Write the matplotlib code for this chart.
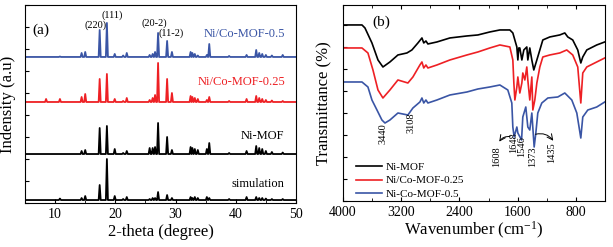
import matplotlib
matplotlib.use('Agg')
import matplotlib.pyplot as plt
from matplotlib.ticker import MultipleLocator

plt.rcParams['font.family'] = ['Liberation Serif', 'DejaVu Serif']
plt.rcParams['mathtext.default'] = 'regular'

# ---- (a) XRD peaks: 2-theta position and height of each reflection ----
peak_pos = [8.5, 10.8, 14.4, 15.0, 17.4, 18.6, 19.9, 21.3, 21.9, 25.7, 26.2, 26.6,
            27.1, 28.6, 29.4, 32.5, 32.8, 33.2, 33.7, 35.2, 35.6, 38.9, 41.8, 43.4,
            43.9, 44.4, 45.0, 46.0, 47.8]
h_sim = [0, 1.5, 2, 4, 15, 41, 4, 1, 3, 1, 2, 2, 8, 5, 2, 3, 2, 3, 2, 3, 2, 1, 3, 3,
         2, 2, 1.5, 1, 1]
h_ni = [0, 0, 3, 4, 26, 28, 5, 1, 3, 6, 6, 7, 31, 17, 4, 7, 6, 5, 4, 5, 11, 1, 3, 8,
        6, 5, 3, 2, 1.5]
h_co025 = [3, 3, 5, 8, 23, 28, 3, 1, 4, 2, 4, 7, 39, 23, 9, 6, 5, 4, 3, 2, 5, 1, 3, 6,
           4, 3, 2, 1.5, 1]
h_co05 = [0, 0.5, 4, 5, 27, 34, 3, 1.5, 4, 2, 3, 5, 24, 16, 5, 5, 4, 3, 1.5, 2, 13, 1, 2,
          7, 4, 3, 2, 1.5, 2]
xrd_offsets = [3, 49, 101, 146]
xrd_names = ['simulation', 'Ni-MOF', 'Ni/Co-MOF-0.25', 'Ni/Co-MOF-0.5']

# ---- (b) FTIR spectra (wavenumber, transmittance a.u.) ----
wn_ni = [4000, 3739, 3698, 3602, 3519, 3451, 3355, 3245, 3121, 3053, 2970, 2915, 2890,
         2860, 2833, 2709, 2531, 2297, 2146, 1982, 1844, 1707, 1666, 1611, 1597, 1584,
         1570, 1542, 1515, 1474, 1460, 1433, 1405, 1378, 1336, 1295, 1254, 1158, 1021,
         952, 911, 843, 774, 732, 705, 650, 513, 403]
t_ni = [176, 176, 173, 158, 141, 134, 139, 146, 148, 151, 158, 163, 158, 160, 157, 159,
        163, 165, 166, 169, 171, 171, 168, 154, 141, 153, 153, 141, 151, 154, 141, 153,
        141, 131, 141, 151, 161, 164, 166, 168, 164, 161, 151, 138, 144, 151, 156, 159]
wn_co025 = [4000, 3739, 3657, 3588, 3519, 3451, 3355, 3245, 3108, 3039, 2943, 2915, 2890,
            2860, 2833, 2709, 2531, 2297, 2146, 1982, 1844, 1707, 1666, 1652, 1638, 1611,
            1597, 1570, 1542, 1529, 1501, 1474, 1460, 1433, 1405, 1391, 1364, 1336, 1295,
            1254, 1158, 1021, 925, 843, 774, 732, 705, 650, 513, 403]
t_co025 = [153, 153, 148, 131, 111, 103, 111, 121, 118, 124, 136, 139, 133, 136, 133, 136,
           141, 146, 149, 153, 156, 154, 141, 118, 101, 114, 124, 108, 118, 128, 121, 134,
           121, 101, 124, 91, 101, 118, 134, 144, 146, 148, 151, 146, 134, 98, 128, 134,
           139, 143]
wn_co05 = [4000, 3739, 3657, 3602, 3533, 3465, 3423, 3355, 3245, 3108, 3039, 2943, 2915,
           2890, 2860, 2833, 2709, 2531, 2297, 2146, 1982, 1844, 1735, 1680, 1666, 1648,
           1611, 1597, 1546, 1529, 1488, 1460, 1433, 1405, 1373, 1350, 1323, 1268, 1185,
           1048, 952, 856, 787, 732, 705, 636, 513, 403]
t_co05 = [119, 119, 114, 101, 91, 81, 78, 81, 88, 86, 93, 99, 103, 98, 101, 98, 101, 106,
          109, 112, 114, 116, 111, 98, 74, 64, 74, 68, 61, 84, 94, 74, 71, 88, 54, 68, 88,
          98, 103, 104, 108, 101, 88, 63, 84, 91, 94, 99]
ftir_names = ['Ni-MOF', 'Ni/Co-MOF-0.25', 'Ni-Co-MOF-0.5']

blue = '#3a55a5'
red = '#ee2024'

fig = plt.figure(figsize=(6.13, 2.47), dpi=100)
ax1 = fig.add_axes([0.0408, 0.178, 0.442, 0.802])
ax2 = fig.add_axes([0.5595, 0.186, 0.4274, 0.794])

# (a) build each pattern as narrow peaks on a flat baseline
w = 0.17
colors_a = ['black', 'black', red, blue]
for heights, off, c in zip([h_sim, h_ni, h_co025, h_co05], xrd_offsets, colors_a):
    xs = [5.0]
    ys = [off]
    for p, h in zip(peak_pos, heights):
        xs += [p - w, p, p + w]
        ys += [off, off + h, off]
    xs.append(50.0)
    ys.append(off)
    ax1.plot(xs, ys, color=c, lw=1.3)

ax1.set_xlim(5, 50)
ax1.set_ylim(0, 198)
ax1.xaxis.set_major_locator(MultipleLocator(10))
ax1.xaxis.set_minor_locator(MultipleLocator(5))
ax1.yaxis.set_major_locator(MultipleLocator(22))
ax1.set_yticklabels([])
ax1.tick_params(direction='in', labelsize=10, length=3)
ax1.tick_params(which='minor', direction='in', length=2)
ax1.set_xlabel('2-theta (degree)', fontsize=12, labelpad=2)
ax1.set_ylabel('Indensity (a.u)', fontsize=12, labelpad=3)

ax1.text(6.3, 173, '(a)', fontsize=11, va='center')
ax1.text(16.8, 178, '(220)', fontsize=7.5, ha='center', va='center')
ax1.text(19.5, 188, '(111)', fontsize=7.5, ha='center', va='center')
ax1.text(26.4, 180, '(20-2)', fontsize=7.5, ha='center', va='center')
ax1.text(29.3, 170, '(11-2)', fontsize=7.5, ha='center', va='center')
ax1.text(48.2, 169, 'Ni/Co-MOF-0.5', fontsize=9, color=blue, ha='right', va='center')
ax1.text(48.2, 121, 'Ni/Co-MOF-0.25', fontsize=9, color=red, ha='right', va='center')
ax1.text(48.0, 67, 'Ni-MOF', fontsize=9, ha='right', va='center')
ax1.text(48.0, 19, 'simulation', fontsize=9, ha='right', va='center')

# (b) FTIR
ax2.plot(wn_ni, t_ni, color='black', lw=1.2, label=ftir_names[0])
ax2.plot(wn_co025, t_co025, color=red, lw=1.2, label=ftir_names[1])
ax2.plot(wn_co05, t_co05, color=blue, lw=1.2, label=ftir_names[2])
ax2.set_xlim(4000, 400)
ax2.set_ylim(0, 196)
ax2.xaxis.set_major_locator(MultipleLocator(800))
ax2.xaxis.set_minor_locator(MultipleLocator(400))
ax2.yaxis.set_major_locator(MultipleLocator(22))
ax2.set_yticklabels([])
ax2.tick_params(direction='in', labelsize=10, length=3, top=True)
ax2.tick_params(which='minor', direction='in', length=2, top=True)
ax2.set_xlabel('Wavenumber (cm$^{-1}$)', fontsize=12, labelpad=1)
ax2.set_ylabel('Transmittance (%)', fontsize=12, labelpad=4)

ax2.text(3478, 179, '(b)', fontsize=11, ha='center', va='center')
for lab, x, y in [('3440', 3451, 67), ('3108', 3066, 78), ('1608', 1886, 44),
                  ('1648', 1660, 58), ('1546', 1545, 54), ('1373', 1391, 44),
                  ('1435', 1130, 48)]:
    ax2.text(x, y, lab, fontsize=7.5, rotation=90, ha='center', va='center')

ax2.annotate('', xy=(1872, 57), xytext=(1666, 64),
             arrowprops=dict(arrowstyle='->', lw=0.7, connectionstyle='arc3,rad=0.4'))
ax2.annotate('', xy=(1089, 58), xytext=(1391, 66),
             arrowprops=dict(arrowstyle='->', lw=0.7, connectionstyle='arc3,rad=-0.4'))

ax2.legend(loc='lower left', bbox_to_anchor=(0.05, 0.01), frameon=False, fontsize=8,
           borderpad=0, borderaxespad=0, handlelength=2.3, handletextpad=0.4,
           labelspacing=0.35)

fig.savefig('out.png', dpi=100)
